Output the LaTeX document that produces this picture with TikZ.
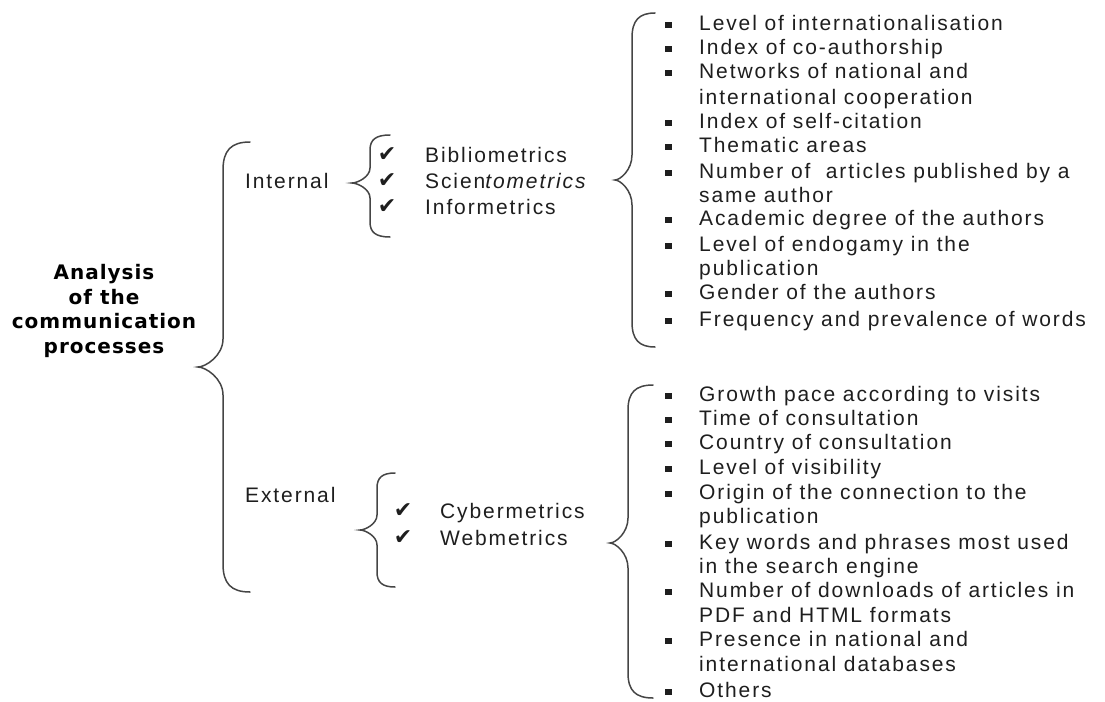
\documentclass[tikz,border=0pt]{standalone}
\usepackage{fontspec}
\setmainfont{Liberation Sans}[LetterSpace=9]
\newfontfamily\titlefont{DejaVu Sans}[LetterSpace=5]
\newfontfamily\checkfont{DejaVu Sans}
\usetikzlibrary{positioning}
\definecolor{inkgray}{HTML}{1E1E1E}
\definecolor{bracegray}{HTML}{454545}
\tikzset{
  brace/.style = {draw=bracegray, line width=1.5pt, line cap=round},
  item/.style = {anchor=west, inner sep=0pt, text height=15pt, text depth=4pt,
    font=\fontsize{21}{24}\selectfont, text=inkgray},
  bullet/.style = {fill=inkgray, minimum width=7pt, minimum height=6pt, inner sep=0pt},
  tick/.style = {font=\checkfont\fontsize{22}{22}\selectfont, inner sep=0pt, text=inkgray},
  heading/.style = {align=center, inner sep=0pt, text=black,
    font=\titlefont\bfseries\fontsize{20}{24.7}\selectfont}
}
% hook x, line x, tip x, top y, tip y, bottom y, curve length
\newcommand{\curlybrace}[7]{%
  \draw[brace] (#1,#4) .. controls ({#2+0.3*(#1-#2)},#4) and (#2,{#4+0.3*#7}) .. (#2,{#4+#7})
    -- (#2,{#5-#7}) .. controls (#2,{#5-0.4*#7}) and ({#3+0.3*(#2-#3)},#5) .. (#3,#5)
    .. controls ({#3+0.3*(#2-#3)},#5) and (#2,{#5+0.4*#7}) .. (#2,{#5+#7})
    -- (#2,{#6-#7}) .. controls (#2,{#6-0.3*#7}) and ({#2+0.3*(#1-#2)},#6) .. (#1,#6);
}

\begin{document}
\begin{tikzpicture}[x=1pt, y=-1pt]

    \useasboundingbox (0,0) rectangle (1105,701);

    %% Title
    \node[heading] (ana) at (104,311) {Analysis\\of the\\communication\\processes};

    % Main brace
    \curlybrace{250}{223}{198}{142}{367}{592}{28}

    %% Second level
    \node[item] (int) at (245,183) {Internal};
    \node[item] (ext) at (245,497) {External};

    % Internal methods
    \curlybrace{390}{370}{352}{135}{183}{237}{15}
    \node[tick] (t1) at (387,155) {✔};
    \node[tick] (t2) at (387,181) {✔};
    \node[tick] (t3) at (387,207) {✔};
    \node[item] (bib) at (425,157) {Bibliometrics};
    \node[item] (sci) at (425,183) {Scien\textit{tometrics}};
    \node[item] (inf) at (425,209) {Informetrics};

    % External methods
    \curlybrace{395}{377}{360}{473}{530}{587}{15}
    \node[tick] (t4) at (403,511) {✔};
    \node[tick] (t5) at (403,538) {✔};
    \node[item] (cyb) at (440,513) {Cybermetrics};
    \node[item] (web) at (440,540) {Webmetrics};

    %% Indicators of the internal analysis
    \curlybrace{655}{632}{615}{13}{180}{347}{25}
    \foreach \y/\txt/\b [count=\i] in {
        25/Level of internationalisation/1,
        49/Index of co-authorship/1,
        73/Networks of national and/1,
        99/international cooperation/0,
        123/Index of self-citation/1,
        147/Thematic areas/1,
        173/Number of \ articles published by a/1,
        197/same author/0,
        220/Academic degree of the authors/1,
        246/Level of endogamy in the/1,
        270/publication/0,
        294/Gender of the authors/1,
        321/Frequency and prevalence of words/1} {
      \node[item] (a\i) at (699,\y) {\txt};
      \ifnum\b=1 \node[bullet] (ba\i) at (668,\y) {}; \fi
    }

    %% Indicators of the external analysis
    \curlybrace{653}{628}{610}{385}{543}{698}{25}
    \foreach \y/\txt/\b [count=\i] in {
        396/Growth pace according to visits/1,
        420/Time of consultation/1,
        444/Country of consultation/1,
        469/Level of visibility/1,
        494/Origin of the connection to the/1,
        518/publication/0,
        544/Key words and phrases most used/1,
        568/in the search engine/0,
        592/Number of downloads of articles in/1,
        617/PDF and HTML formats/0,
        641/Presence in national and/1,
        666/international databases/0,
        692/Others/1} {
      \node[item] (c\i) at (699,\y) {\txt};
      \ifnum\b=1 \node[bullet] (bc\i) at (668,\y) {}; \fi
    }

\end{tikzpicture}
\end{document}
